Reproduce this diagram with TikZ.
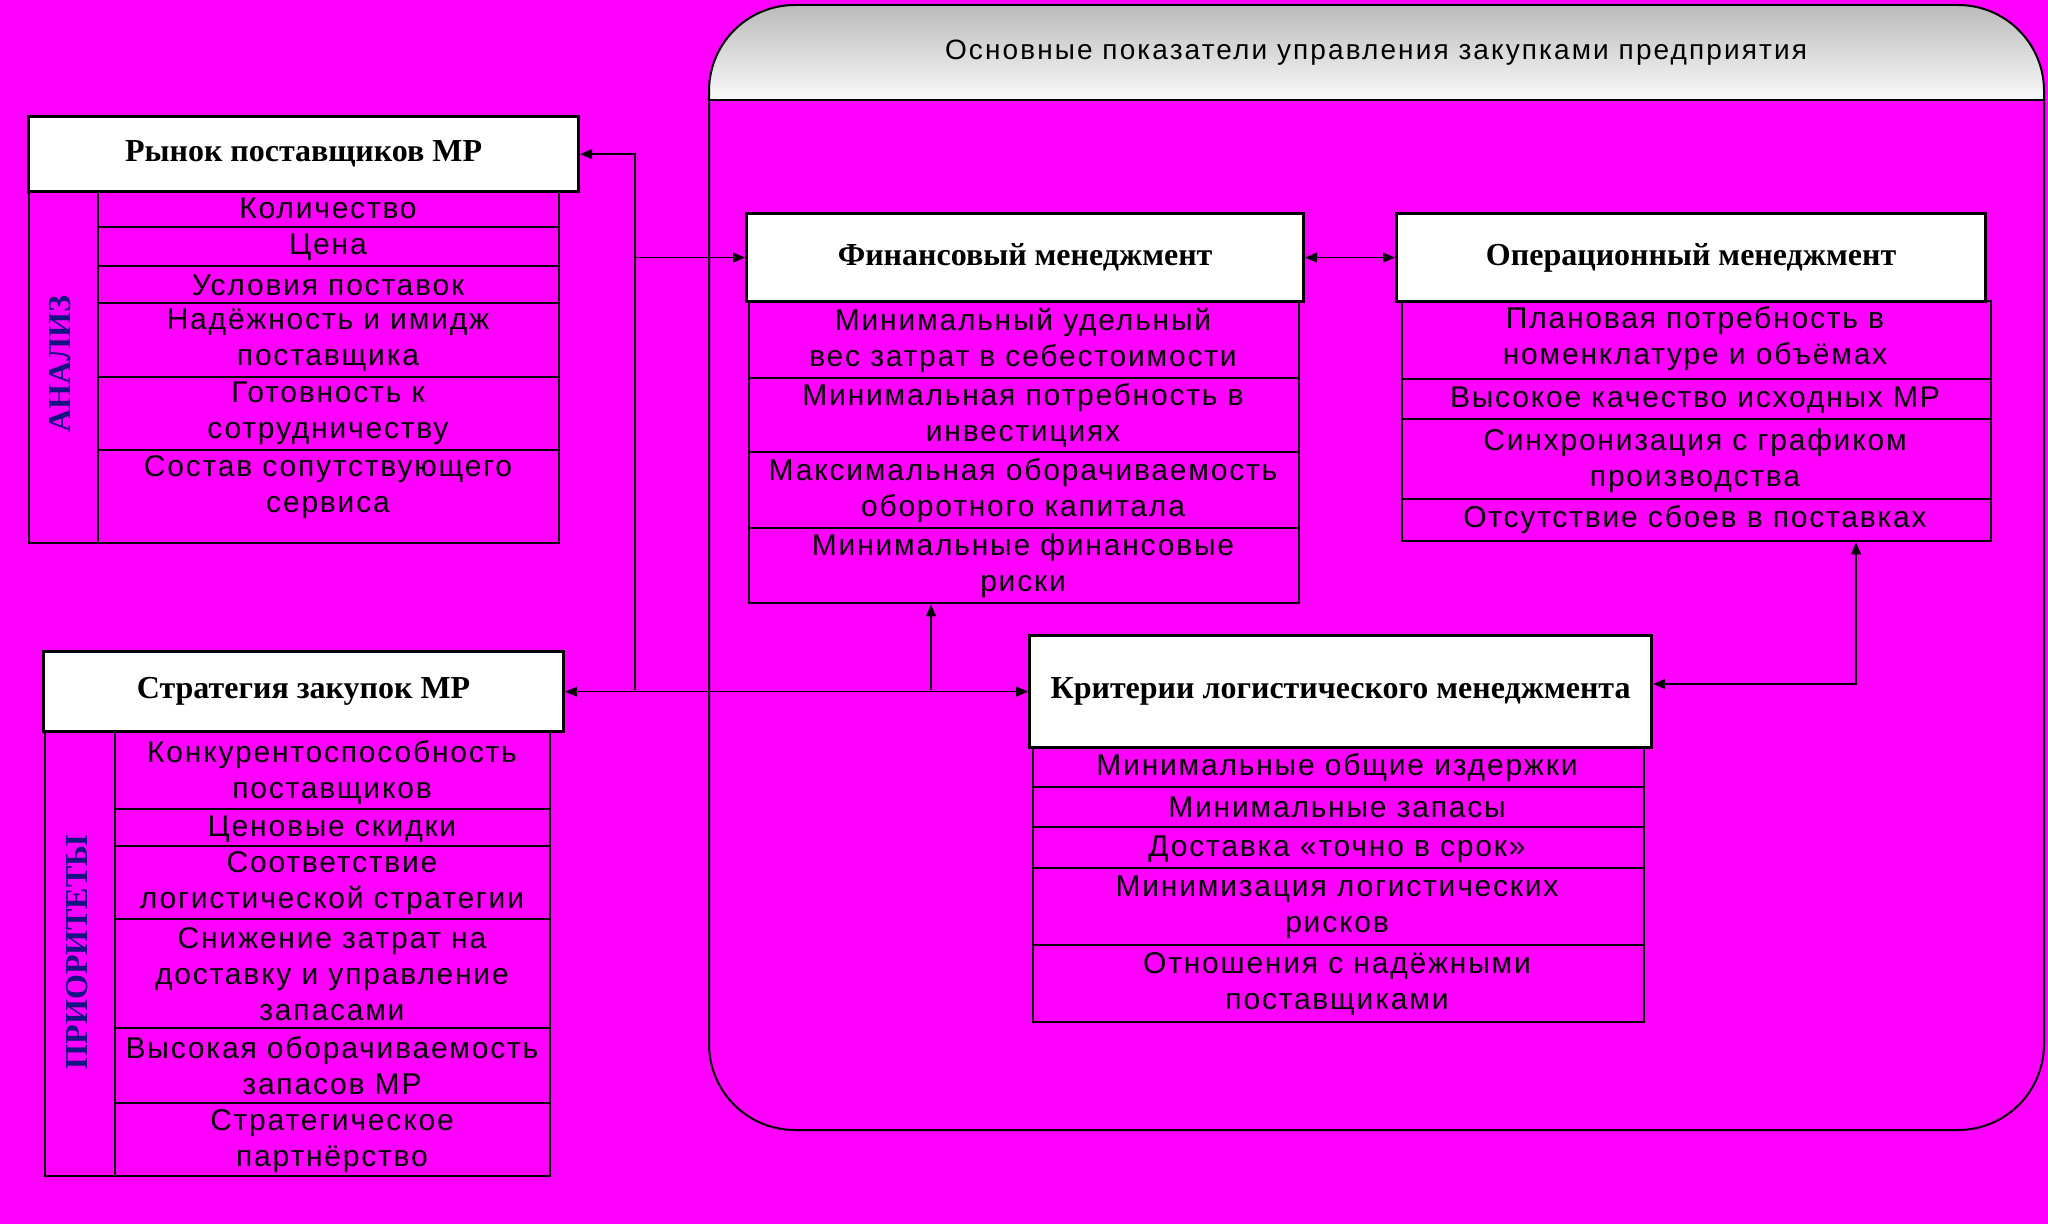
\documentclass[tikz,border=0pt]{standalone}
\usepackage{fontspec}
\setmainfont{Liberation Serif}
\newfontfamily\arsp{Liberation Sans}[LetterSpace=6]
\newfontfamily\arst{Liberation Sans}[LetterSpace=7.5]
\usetikzlibrary{arrows.meta}
\definecolor{bgmag}{RGB}{255,0,255}
\definecolor{lblue}{RGB}{20,20,130}
\begin{document}
\begin{tikzpicture}[x=0.5pt,y=-0.5pt,
  hdr/.style={draw=black, line width=1.6pt, fill=white, font=\bfseries\fontsize{16}{19}\selectfont, inner sep=0, anchor=north west},
  tabbox/.style={draw=black, line width=1.2pt, inner sep=0, anchor=north west},
  cell/.style={font=\arsp\fontsize{15}{18}\selectfont, align=center, inner sep=0},
  grid/.style={line width=1.2pt},
  conn/.style={line width=0.6pt, -{Triangle[length=6pt,width=5pt]}},
  conn2/.style={line width=0.6pt, {Triangle[length=6pt,width=5pt]}-{Triangle[length=6pt,width=5pt]}},
  vlabel/.style={rotate=90, font=\bfseries\fontsize{16}{19}\selectfont, text=lblue, inner sep=0}
]
\useasboundingbox (0,0) rectangle (2048,1224);
\fill[bgmag] (0,0) rectangle (2048,1224);

% container
\shade[top color=black!27, bottom color=black!2] (709,100) -- (709,91) arc[start angle=180, end angle=270, radius=86] -- (1958,5) arc[start angle=270, end angle=360, radius=86] -- (2044,100) -- cycle;
\draw[line width=1pt] (709,100) -- (709,91) arc[start angle=180, end angle=270, radius=86] -- (1958,5) arc[start angle=270, end angle=360, radius=86] -- (2044,1044) arc[start angle=0, end angle=90, radius=86] -- (795,1130) arc[start angle=90, end angle=180, radius=86] -- cycle;
\draw[line width=1pt] (709,100) -- (2044,100);
\node[font=\arst\fontsize{14}{17}\selectfont, inner sep=0] (title) at (1376,53) {Основные показатели управления закупками предприятия};

% Rynok table
\node[tabbox, minimum width=265pt, minimum height=176pt] (rtab) at (28,190) {};
\draw[grid] (98,190) -- (98,542);
\foreach \yy in {227,266,303,377,450} \draw[grid] (98,\yy) -- (558,\yy);
\node[vlabel] (anal) at (60,364) {АНАЛИЗ};
\node[cell] (r1) at (328,208) {Количество};
\node[cell] (r2) at (328,247) {Цена};
\node[cell] (r3) at (328,285) {Условия поставок};
\node[cell] (r4) at (328,340) {Надёжность и имидж\\поставщика};
\node[cell] (r5) at (328,413) {Готовность к\\сотрудничеству};
\node[cell] (r6) at (328,487) {Состав сопутствующего\\сервиса};
\node[hdr, minimum width=275pt, minimum height=37.5pt] (ryn) at (27,115) {Рынок поставщиков МР};

% Strategy table
\node[tabbox, minimum width=252.5pt, minimum height=222.5pt] (stab) at (44,730) {};
\draw[grid] (115,730) -- (115,1175);
\foreach \yy in {809,846,919,1028,1103} \draw[grid] (115,\yy) -- (549,\yy);
\node[vlabel] (prio) at (77,952) {ПРИОРИТЕТЫ};
\node[cell] (s1) at (332,772) {Конкурентоспособность\\поставщиков};
\node[cell] (s2) at (332,829) {Ценовые скидки};
\node[cell] (s3) at (332,883) {Соответствие\\логистической стратегии};
\node[cell] (s4) at (332,974) {Снижение затрат на\\доставку и управление\\запасами};
\node[cell] (s5) at (332,1066) {Высокая оборачиваемость\\запасов МР};
\node[cell] (s6) at (332,1141) {Стратегическое\\партнёрство};
\node[hdr, minimum width=260pt, minimum height=40pt] (strat) at (42,650) {Стратегия закупок МР};

% Financial
\node[tabbox, minimum width=275pt, minimum height=151pt] (fintab) at (748,300) {};
\foreach \yy in {378,452,528} \draw[grid] (748,\yy) -- (1298,\yy);
\node[cell] (f1) at (1023,340) {Минимальный удельный\\вес затрат в себестоимости};
\node[cell] (f2) at (1023,415) {Минимальная потребность в\\инвестициях};
\node[cell] (f3) at (1023,491) {Максимальная оборачиваемость\\оборотного капитала};
\node[cell] (f4) at (1023,566) {Минимальные финансовые\\риски};
\node[hdr, minimum width=278.5pt, minimum height=44pt] (fin) at (745,212) {Финансовый менеджмент};

% Operational
\node[tabbox, minimum width=294.5pt, minimum height=120pt] (opertab) at (1401,300) {};
\foreach \yy in {379,419,499} \draw[grid] (1401,\yy) -- (1990,\yy);
\node[cell] (o1) at (1695,339) {Плановая потребность в\\номенклатуре и объёмах};
\node[cell] (o2) at (1695,400) {Высокое качество исходных МР};
\node[cell] (o3) at (1695,461) {Синхронизация с графиком\\производства};
\node[cell] (o4) at (1695,520) {Отсутствие сбоев в поставках};
\node[hdr, minimum width=294.5pt, minimum height=44pt] (oper) at (1395,212) {Операционный менеджмент};

% Logistics
\node[tabbox, minimum width=305.5pt, minimum height=137.5pt] (kritab) at (1032,746) {};
\foreach \yy in {787,827,868,945} \draw[grid] (1032,\yy) -- (1643,\yy);
\node[cell] (k1) at (1337,768) {Минимальные общие издержки};
\node[cell] (k2) at (1337,807) {Минимальные запасы};
\node[cell] (k3) at (1337,849) {Доставка «точно в срок»};
\node[cell] (k4) at (1337,907) {Минимизация логистических\\рисков};
\node[cell] (k5) at (1337,984) {Отношения с надёжными\\поставщиками};
\node[hdr, minimum width=311pt, minimum height=56pt] (krit) at (1028,634) {Критерии логистического менеджмента};

% connectors
\coordinate (ja) at (635,690);
\coordinate (jb) at (931,690);
\coordinate (jc) at (1856,684);
\draw[conn2] (strat.east) -- (krit.west);
\draw[conn] (ja) |- (ryn.east);
\draw[conn] (ja |- fin.west) -- (fin.west);
\draw[conn] (jb) -- (jb |- fintab.south);
\draw[conn2] (fin.east) -- (oper.west);
\draw[conn2] (krit.east |- jc) -- (jc) -- (jc |- opertab.south);
\end{tikzpicture}
\end{document}
